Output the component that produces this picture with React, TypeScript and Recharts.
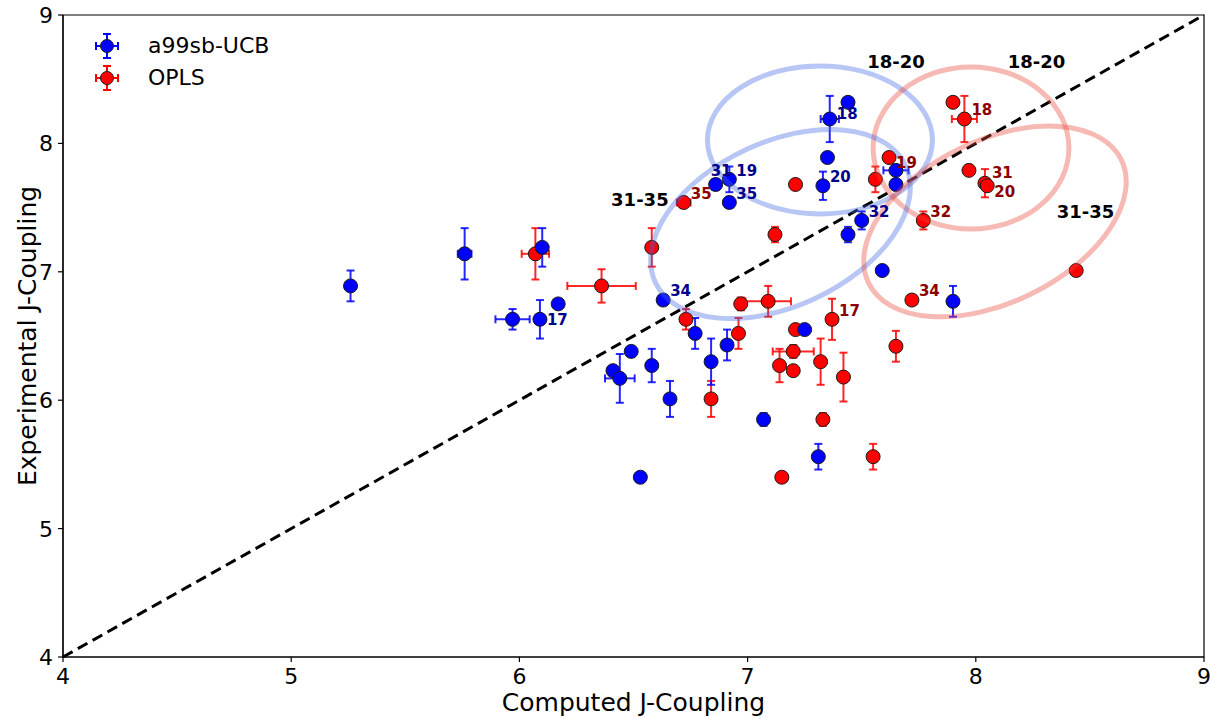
import React from "react";
import {
  ScatterChart,
  Scatter,
  XAxis,
  YAxis,
  ErrorBar,
  ReferenceLine,
  ReferenceArea,
  Legend
} from "recharts";

const FONT = "'DejaVu Sans', sans-serif";
const W = 1210;
const H = 719;
const MARGIN = { top: 15, right: 6, left: 0, bottom: 0 };
const Y_AXIS_W = 63;
const X_AXIS_H = 62;
// pixels per unit, used only to size the ellipse annotations
const PX_X = (W - MARGIN.left - MARGIN.right - Y_AXIS_W) / 5;
const PX_Y = (H - MARGIN.top - MARGIN.bottom - X_AXIS_H) / 5;

const TICKS = [4, 5, 6, 7, 8, 9];

// a99sb-UCB
const blueX = [5.26, 5.76, 6.10, 6.17, 5.97, 6.09, 6.49, 6.41, 6.44, 6.58, 6.66, 6.53, 6.63, 6.77, 6.84, 6.91, 7.07, 7.31, 7.25, 6.86, 6.92, 6.92, 7.33, 7.35, 7.36, 7.44, 7.50, 7.44, 7.59, 7.65, 7.65, 7.90];
const blueY = [6.89, 7.14, 7.19, 6.75, 6.63, 6.63, 6.38, 6.23, 6.17, 6.27, 6.01, 5.40, 6.78, 6.52, 6.30, 6.43, 5.85, 5.56, 6.55, 7.68, 7.72, 7.54, 7.67, 7.89, 8.19, 8.32, 7.40, 7.29, 7.01, 7.79, 7.68, 6.77];
const blueXErr = [0, 0.03, 0, 0, 0.075, 0, 0, 0, 0.065, 0, 0, 0, 0, 0, 0, 0, 0, 0, 0, 0, 0, 0, 0, 0, 0.04, 0, 0, 0, 0.02, 0.055, 0, 0];
const blueYErr = [0.12, 0.2, 0.15, 0.03, 0.08, 0.15, 0.04, 0, 0.19, 0.13, 0.14, 0, 0.04, 0.12, 0.18, 0.12, 0.05, 0.1, 0, 0.04, 0.1, 0.04, 0.11, 0, 0.18, 0, 0.07, 0.06, 0.02, 0, 0, 0.12];
const blueLab = ["", "", "", "", "", "17", "", "", "", "", "", "", "34", "", "", "", "", "", "", "31", "19", "35", "20", "", "18", "", "32", "", "", "", "", ""];

// OPLS
const redX = [6.07, 6.36, 6.58, 6.72, 6.73, 6.97, 7.09, 6.96, 6.84, 7.21, 7.20, 7.14, 7.20, 7.32, 7.37, 7.42, 7.65, 7.33, 7.15, 7.55, 7.12, 7.21, 7.56, 7.62, 7.90, 7.95, 7.97, 8.04, 8.05, 7.77, 7.72, 8.44];
const redY = [7.14, 6.89, 7.19, 7.54, 6.63, 6.75, 6.77, 6.52, 6.01, 6.55, 6.38, 6.27, 6.23, 6.30, 6.63, 6.18, 6.42, 5.85, 5.40, 5.56, 7.29, 7.68, 7.72, 7.89, 8.32, 8.19, 7.79, 7.69, 7.67, 7.40, 6.78, 7.01];
const redXErr = [0.06, 0.15, 0, 0.03, 0, 0, 0.1, 0, 0, 0, 0.09, 0, 0, 0, 0, 0, 0, 0, 0, 0, 0, 0, 0, 0, 0, 0.055, 0, 0.02, 0, 0, 0, 0];
const redYErr = [0.2, 0.13, 0.15, 0.02, 0.08, 0.05, 0.12, 0.12, 0.14, 0, 0.05, 0.13, 0, 0.18, 0.16, 0.19, 0.12, 0.05, 0, 0.1, 0.06, 0, 0.1, 0, 0, 0.18, 0, 0.11, 0, 0.07, 0.03, 0.03];
const redLab = ["", "", "", "35", "", "", "", "", "", "", "", "", "", "", "17", "", "", "", "", "", "", "", "", "19", "", "18", "", "31", "20", "32", "34", ""];

// region annotations
const regionNames = ["18-20", "18-20", "31-35", "31-35"];
const regionTextX = [7.65, 8.266, 6.528, 8.481];
const regionTextY = [8.634, 8.634, 7.56, 7.466];

const ellipseX = [7.317, 7.979, 7.144, 8.084];
const ellipseY = [8.027, 7.964, 7.372, 7.392];
const ellipseRx = [0.493, 0.429, 0.605, 0.616];
const ellipseRy = [0.576, 0.631, 0.639, 0.631];
const ellipseAngle = [0, 0, 25, 26];
const ellipseColor = ["#4169e1", "#e8473b", "#4169e1", "#e8473b"];

const BLUE = "#0000ff";
const RED = "#ff0000";

const build = (xs: number[], ys: number[], exs: number[], eys: number[], labs: string[]) =>
  xs.map((x, i) => ({ x, y: ys[i], ex: exs[i], ey: eys[i], lab: labs[i] }));

const blue = build(blueX, blueY, blueXErr, blueYErr, blueLab);
const red = build(redX, redY, redXErr, redYErr, redLab);

const ellipses = ellipseX.map((x, i) => ({
  x,
  y: ellipseY[i],
  rx: ellipseRx[i],
  ry: ellipseRy[i],
  angle: ellipseAngle[i],
  color: ellipseColor[i]
}));

const regions = regionNames.map((name, i) => ({ x: regionTextX[i], y: regionTextY[i], name }));

const series = [
  { name: "a99sb-UCB", color: BLUE },
  { name: "OPLS", color: RED }
];

// label nudges (px) where the default (right, slightly above) doesn't fit
const labelNudge: Record<string, [number, number]> = {
  "b17": [7, 0],
  "b31": [-5, -14],
  "b18": [7, -5],
  "r19": [7, 5],
  "r31": [7, -11],
  "r20": [7, 6]
};

const dot = (fill: string) => (p: any) =>
  <circle cx={p.cx} cy={p.cy} r={7} fill={fill} stroke="#1a1a1a" strokeWidth={1} />;

const pointLabel = (prefix: string, color: string) => (p: any) => {
  const lab = p.payload?.lab;
  if (!lab) return <g />;
  const [dx, dy] = labelNudge[prefix + lab] || [7, -9];
  return (
    <text x={p.cx + dx} y={p.cy + dy} dy="0.36em" fill={color} fontSize={15}
      fontWeight="bold" fontFamily={FONT}>
      {lab}
    </text>
  );
};

const ellipseShape = (p: any) => {
  const e = p.payload;
  return (
    <ellipse cx={p.cx} cy={p.cy} rx={e.rx * PX_X} ry={e.ry * PX_Y}
      transform={`rotate(${-e.angle} ${p.cx} ${p.cy})`}
      fill="none" stroke={e.color} strokeOpacity={0.38} strokeWidth={5} />
  );
};

const regionShape = (p: any) => (
  <text x={p.cx} y={p.cy} dy="0.36em" textAnchor="middle" fontSize={18}
    fontWeight="bold" fontFamily={FONT} fill="#000">
    {p.payload.name}
  </text>
);

const XTick = (p: any) => (
  <text x={p.x} y={p.y} dy="0.73em" textAnchor="middle" fontSize={22}
    fontFamily={FONT} fill="#000">
    {p.payload.value}
  </text>
);

const YTick = (p: any) => (
  <text x={p.x} y={p.y} dy="0.36em" textAnchor="end" fontSize={22}
    fontFamily={FONT} fill="#000">
    {p.payload.value}
  </text>
);

const LegendIcon = ({ color }: { color: string }) => (
  <svg width={32} height={32}>
    <g stroke={color} strokeWidth={2}>
      <line x1={5} y1={16} x2={27} y2={16} />
      <line x1={16} y1={4} x2={16} y2={28} />
      <line x1={5} y1={12} x2={5} y2={20} />
      <line x1={27} y1={12} x2={27} y2={20} />
      <line x1={12} y1={4} x2={20} y2={4} />
      <line x1={12} y1={28} x2={20} y2={28} />
    </g>
    <circle cx={16} cy={16} r={6.5} fill={color} stroke="#1a1a1a" strokeWidth={1} />
  </svg>
);

const renderLegend = () => (
  <div style={{ fontFamily: FONT, fontSize: 22, color: "#000" }}>
    {series.map((s) => (
      <div key={s.name} style={{ display: "flex", alignItems: "center", height: 32 }}>
        <LegendIcon color={s.color} />
        <span style={{ marginLeft: 25, lineHeight: "32px" }}>{s.name}</span>
      </div>
    ))}
  </div>
);

export default function App() {
  return (
    <div style={{ position: "absolute", left: 0, top: 0, background: "#fff" }}>
      <ScatterChart width={W} height={H} margin={MARGIN}>
        <XAxis
          type="number"
          dataKey="x"
          domain={[4, 9]}
          ticks={TICKS}
          interval={0}
          allowDataOverflow
          height={X_AXIS_H}
          tick={XTick}
          tickSize={5}
          tickMargin={6}
          axisLine={{ stroke: "#000", strokeWidth: 1.2 }}
          tickLine={{ stroke: "#000", strokeWidth: 1.2 }}
          label={{
            content: ({ viewBox }: any) => (
              <text x={viewBox.x + viewBox.width / 2} y={viewBox.y + viewBox.height - 8}
                textAnchor="middle" fontSize={25} fontFamily={FONT} fill="#000">
                Computed J-Coupling
              </text>
            )
          }}
        />
        <YAxis
          type="number"
          dataKey="y"
          domain={[4, 9]}
          ticks={TICKS}
          interval={0}
          allowDataOverflow
          width={Y_AXIS_W}
          tick={YTick}
          tickSize={5}
          tickMargin={5}
          axisLine={{ stroke: "#000", strokeWidth: 1.2 }}
          tickLine={{ stroke: "#000", strokeWidth: 1.2 }}
          label={{
            content: ({ viewBox }: any) => {
              const cx = viewBox.x + 27;
              const cy = viewBox.y + viewBox.height / 2;
              return (
                <text x={cx} y={cy} dy="0.36em" textAnchor="middle" fontSize={25}
                  fontFamily={FONT} fill="#000" transform={`rotate(-90 ${cx} ${cy})`}>
                  Experimental J-Coupling
                </text>
              );
            }
          }}
        />
        <ReferenceArea x1={4} x2={9} y1={4} y2={9} fill="none" stroke="#000"
          strokeWidth={1.2} ifOverflow="visible" />
        <ReferenceLine
          segment={[{ x: 4, y: 4 }, { x: 9, y: 9 }]}
          stroke="#000"
          strokeWidth={3}
          strokeDasharray="11 6"
        />
        <Scatter name="OPLS" data={red} fill={RED} shape={dot(RED)} isAnimationActive={false}>
          <ErrorBar dataKey="ex" direction="x" width={4} stroke={RED} strokeWidth={2}
            strokeOpacity={0.85} isAnimationActive={false} />
          <ErrorBar dataKey="ey" direction="y" width={4} stroke={RED} strokeWidth={2}
            strokeOpacity={0.85} isAnimationActive={false} />
        </Scatter>
        <Scatter name="a99sb-UCB" data={blue} fill={BLUE} shape={dot(BLUE)} isAnimationActive={false}>
          <ErrorBar dataKey="ex" direction="x" width={4} stroke={BLUE} strokeWidth={2}
            strokeOpacity={0.85} isAnimationActive={false} />
          <ErrorBar dataKey="ey" direction="y" width={4} stroke={BLUE} strokeWidth={2}
            strokeOpacity={0.85} isAnimationActive={false} />
        </Scatter>
        <Scatter data={ellipses} shape={ellipseShape} isAnimationActive={false} legendType="none" />
        <Scatter data={red} shape={pointLabel("r", "#8b0000")} isAnimationActive={false} legendType="none" />
        <Scatter data={blue} shape={pointLabel("b", "#00008b")} isAnimationActive={false} legendType="none" />
        <Scatter data={regions} shape={regionShape} isAnimationActive={false} legendType="none" />
        <Legend
          layout="vertical"
          align="center"
          verticalAlign="middle"
          content={renderLegend}
          wrapperStyle={{ left: 91, top: 30, width: 220, height: 64 }}
        />
      </ScatterChart>
    </div>
  );
}
